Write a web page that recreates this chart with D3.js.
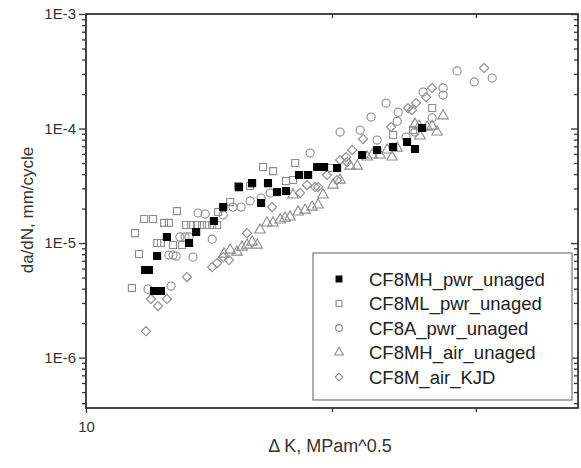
<!DOCTYPE html>
<html>
<head>
<meta charset="utf-8">
<script src="https://cdn.jsdelivr.net/npm/d3@7"></script>
<style>
  body { margin: 0; background: #fff; }
  svg text { font-family: "Liberation Sans", Arial, sans-serif; }
</style>
</head>
<body>
<div id="chart"></div>
<script>
// series: [deltaK, da/dN]
var seriesNames = ["CF8MH_pwr_unaged", "CF8ML_pwr_unaged", "CF8A_pwr_unaged", "CF8MH_air_unaged", "CF8M_air_KJD"];

var mhPwr = [
  [11.81, 5.81e-6], [11.94, 5.81e-6], [12.11, 3.81e-6], [12.35, 3.81e-6], [12.22, 7.70e-6],
  [12.56, 1.13e-5], [13.37, 1.00e-5], [13.64, 1.25e-5], [14.34, 1.56e-5], [14.72, 2.06e-5],
  [15.39, 3.08e-5], [15.97, 3.34e-5], [16.38, 2.24e-5], [16.70, 3.34e-5], [17.13, 2.79e-5],
  [17.57, 2.85e-5], [18.23, 3.93e-5], [18.70, 3.93e-5], [19.18, 4.61e-5], [19.56, 4.61e-5],
  [20.29, 4.52e-5], [21.77, 5.87e-5], [22.71, 6.49e-5], [23.76, 6.89e-5], [24.71, 7.62e-5],
  [25.27, 6.62e-5], [25.78, 1.01e-4]
];

var mlPwr = [
  [11.38, 4.05e-6], [11.48, 1.22e-5], [11.61, 8.02e-6], [11.78, 1.62e-5], [12.08, 1.62e-5],
  [12.22, 1.00e-5], [12.35, 1.00e-5], [12.46, 1.50e-5], [12.63, 1.50e-5], [12.78, 9.61e-6],
  [12.92, 1.90e-5], [13.11, 9.61e-6], [13.26, 1.44e-5], [13.45, 1.44e-5], [13.67, 1.44e-5],
  [13.87, 1.44e-5], [14.06, 1.44e-5], [14.27, 1.44e-5], [14.47, 1.44e-5], [14.51, 1.87e-5],
  [15.01, 2.28e-5], [15.35, 3.15e-5], [15.88, 3.15e-5], [16.47, 4.61e-5], [16.94, 4.25e-5],
  [17.57, 3.48e-5], [17.92, 3.55e-5], [18.03, 5.00e-5], [19.89, 4.52e-5], [23.76, 8.77e-5],
  [25.13, 9.70e-5], [26.52, 1.51e-4]
];

var aPwr = [
  [11.91, 3.96e-6], [12.71, 4.21e-6], [12.63, 7.85e-6], [12.78, 7.85e-6], [12.89, 7.70e-6],
  [13.52, 7.54e-6], [13.03, 1.13e-5], [13.22, 1.13e-5], [13.37, 1.13e-5], [14.27, 1.08e-5],
  [13.71, 1.83e-5], [13.99, 1.79e-5], [14.72, 1.76e-5], [15.13, 2.06e-5], [15.48, 2.06e-5],
  [15.88, 2.33e-5], [16.38, 2.47e-5], [16.80, 2.73e-5], [18.80, 6.11e-5], [20.46, 9.32e-5],
  [21.65, 9.70e-5], [22.33, 1.26e-4], [22.71, 7.93e-5], [23.29, 1.67e-4], [24.10, 1.39e-4],
  [24.03, 1.16e-4], [24.64, 8.43e-5], [25.27, 9.32e-5], [25.85, 2.08e-4], [27.35, 2.26e-4],
  [27.35, 1.96e-4], [26.52, 1.24e-4], [28.45, 3.18e-4], [29.86, 2.55e-4], [31.41, 2.76e-4]
];

var mhAir = [
  [14.75, 8.02e-6], [15.01, 8.69e-6], [15.30, 8.34e-6], [15.52, 9.23e-6], [15.74, 9.61e-6],
  [15.97, 1.02e-5], [16.20, 9.61e-6], [16.33, 1.30e-5], [16.65, 1.50e-5], [16.94, 1.50e-5],
  [17.28, 1.59e-5], [17.52, 1.65e-5], [17.77, 1.69e-5], [18.18, 1.87e-5], [18.54, 1.94e-5],
  [18.91, 2.06e-5], [19.23, 2.15e-5], [17.92, 2.63e-5], [19.50, 2.63e-5], [20.06, 3.21e-5],
  [20.46, 3.55e-5], [21.05, 4.70e-5], [21.47, 4.70e-5], [22.08, 5.64e-5], [22.39, 5.87e-5],
  [22.90, 5.87e-5], [23.36, 6.49e-5], [23.69, 5.64e-5], [24.03, 6.75e-5], [25.27, 1.09e-4],
  [25.56, 1.05e-4], [26.15, 1.03e-4], [26.52, 1.05e-4], [26.89, 9.32e-5], [25.63, 8.60e-5],
  [27.35, 1.29e-4]
];

var kjdAir = [
  [11.84, 1.70e-6], [12.01, 3.25e-6], [12.25, 2.82e-6], [12.56, 3.25e-6], [13.29, 5.05e-6],
  [14.27, 6.17e-6], [14.47, 6.69e-6], [14.72, 7.54e-6], [14.96, 7.10e-6], [15.74, 1.22e-5],
  [16.89, 2.06e-5], [18.28, 2.73e-5], [18.64, 3.21e-5], [19.07, 3.08e-5], [19.23, 3.08e-5],
  [19.72, 3.93e-5], [20.29, 3.55e-5], [20.46, 5.31e-5], [20.87, 5.10e-5], [20.81, 5.64e-5],
  [21.17, 6.49e-5], [21.83, 8.09e-5], [23.62, 1.03e-4], [24.78, 1.51e-4], [25.06, 1.45e-4],
  [25.34, 1.67e-4], [26.07, 1.88e-4], [26.52, 2.26e-4], [30.70, 3.38e-4]
];

var yMajorTicks = [1e-6, 1e-5, 1e-4, 1e-3];
var yTickLabels = ["1E-6", "1E-5", "1E-4", "1E-3"];
var xMinorTicks = [20, 30];

drawChart();

function drawChart() {
    var width = 581, height = 468;
    var mLeft = 86, mRight = 578, mTop = 14, mBottom = 408;
    var grey = "#8c8c8c", axisColor = "#333";

    var svg = d3.select("#chart").append("svg")
        .attr("width", width)
        .attr("height", height);

    var x = d3.scaleLog().domain([10, 40]).range([mLeft, mRight]);
    var y = d3.scaleLog().domain([3.63e-7, 1e-3]).range([mBottom, mTop]);

    // minor y ticks 2..9 per decade
    var yMinor = [];
    [1e-7, 1e-6, 1e-5, 1e-4].forEach(function(d) {
        for (var i = 2; i <= 9; i++) {
            var v = d * i;
            if (v >= y.domain()[0] && v <= y.domain()[1]) yMinor.push(v);
        }
    });

    function noDomain(g) { g.select(".domain").remove(); }

    // left axis, ticks outward
    svg.append("g")
        .attr("transform", "translate(" + mLeft + ",0)")
        .call(d3.axisLeft(y).tickValues(yMinor).tickSize(4).tickFormat(""))
        .call(noDomain);
    svg.append("g")
        .attr("transform", "translate(" + mLeft + ",0)")
        .call(d3.axisLeft(y).tickValues(yMajorTicks).tickSize(7).tickPadding(3)
            .tickFormat(function(d, i) { return yTickLabels[i]; }))
        .call(noDomain);

    // right axis, ticks inward
    svg.append("g")
        .attr("transform", "translate(" + mRight + ",0)")
        .call(d3.axisLeft(y).tickValues(yMinor).tickSize(4).tickFormat(""))
        .call(noDomain);
    svg.append("g")
        .attr("transform", "translate(" + mRight + ",0)")
        .call(d3.axisLeft(y).tickValues(yMajorTicks).tickSize(7).tickFormat(""))
        .call(noDomain);

    // bottom axis
    svg.append("g")
        .attr("transform", "translate(0," + mBottom + ")")
        .call(d3.axisBottom(x).tickValues([10]).tickSize(5).tickPadding(8).tickFormat(d3.format("d")))
        .call(noDomain);
    svg.append("g")
        .attr("transform", "translate(0," + mBottom + ")")
        .call(d3.axisBottom(x).tickValues(xMinorTicks).tickSize(4).tickFormat(""))
        .call(noDomain);
    // top axis, ticks inward
    svg.append("g")
        .attr("transform", "translate(0," + mTop + ")")
        .call(d3.axisBottom(x).tickValues(xMinorTicks).tickSize(4).tickFormat(""))
        .call(noDomain);

    svg.selectAll(".tick line").attr("stroke", axisColor).attr("stroke-width", 1.3);
    svg.selectAll(".tick text").attr("fill", "#333").style("font-size", "15px");

    // frame
    svg.append("rect")
        .attr("x", mLeft).attr("y", mTop)
        .attr("width", mRight - mLeft).attr("height", mBottom - mTop)
        .attr("fill", "none")
        .attr("stroke", axisColor)
        .attr("stroke-width", 1.8);

    // axis titles
    svg.append("text")
        .attr("x", 330).attr("y", 452)
        .attr("text-anchor", "middle")
        .attr("fill", "#333")
        .style("font-size", "18px")
        .text("\u0394 K, MPam^0.5");

    svg.append("text")
        .attr("transform", "translate(33,210) rotate(-90)")
        .attr("text-anchor", "middle")
        .attr("fill", "#333")
        .style("font-size", "17px")
        .text("da/dN, mm/cycle");

    // markers
    var styles = [
        { data: mhPwr, type: d3.symbolSquare, size: 49, rot: 0, fill: "#000", stroke: "#000" },
        { data: mlPwr, type: d3.symbolSquare, size: 49, rot: 0, fill: "none", stroke: grey },
        { data: aPwr, type: d3.symbolCircle, size: 52, rot: 0, fill: "none", stroke: grey },
        { data: mhAir, type: d3.symbolTriangle, size: 48, rot: 0, fill: "none", stroke: grey },
        { data: kjdAir, type: d3.symbolSquare, size: 42, rot: 45, fill: "none", stroke: grey }
    ];

    var plot = svg.append("g");
    // open series first so the filled squares sit on top
    [4, 3, 2, 1, 0].forEach(function(si) {
        var s = styles[si];
        plot.selectAll(".s" + si)
            .data(s.data)
            .join("path")
            .attr("class", "s" + si)
            .attr("d", d3.symbol().type(s.type).size(s.size))
            .attr("transform", function(d) {
                return "translate(" + x(d[0]) + "," + y(d[1]) + ") rotate(" + s.rot + ")";
            })
            .attr("fill", s.fill)
            .attr("stroke", s.stroke)
            .attr("stroke-width", 1.1);
    });

    // legend
    var legend = svg.append("g");
    legend.append("rect")
        .attr("x", 313).attr("y", 253)
        .attr("width", 259).attr("height", 147)
        .attr("fill", "#fff")
        .attr("stroke", "#777")
        .attr("stroke-width", 1.2);

    var rows = legend.selectAll(".row")
        .data(seriesNames)
        .join("g")
        .attr("class", "row")
        .attr("transform", function(d, i) { return "translate(339," + (279 + i * 24.5) + ")"; });

    rows.append("path")
        .attr("d", function(d, i) { return d3.symbol().type(styles[i].type).size(styles[i].size * 0.7)(); })
        .attr("transform", function(d, i) { return "rotate(" + styles[i].rot + ")"; })
        .attr("fill", function(d, i) { return styles[i].fill; })
        .attr("stroke", function(d, i) { return styles[i].stroke; })
        .attr("stroke-width", 1.1);

    rows.append("text")
        .attr("x", 30)
        .attr("dy", "0.36em")
        .attr("fill", "#222")
        .style("font-size", "18.5px")
        .text(function(d) { return d; });
}
</script>
</body>
</html>
